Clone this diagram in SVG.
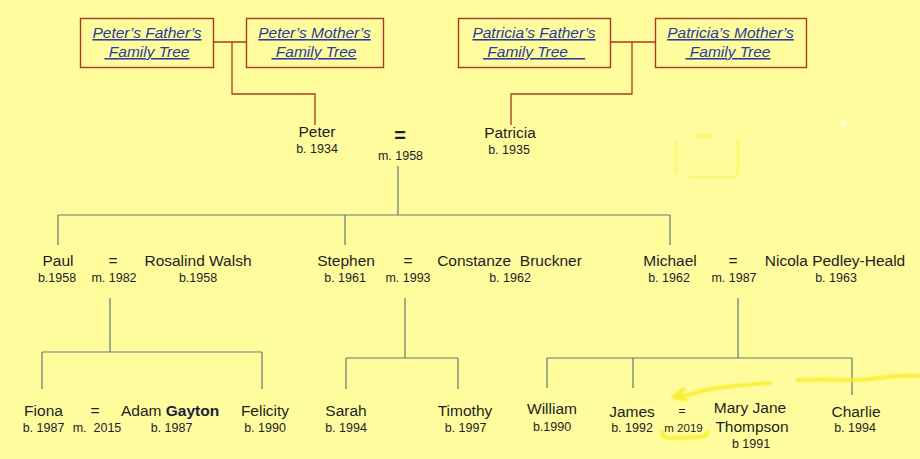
<svg xmlns="http://www.w3.org/2000/svg" width="920" height="459" viewBox="0 0 920 459">
<defs>
<style>
.bg{fill:#FFFC9E}
.box{fill:none;stroke:#A83A1E;stroke-width:1.4}
.red{fill:none;stroke:#A83A1E;stroke-width:1.3}
.gray{fill:none;stroke:#5F7A70;stroke-width:1.2}
.link{font-family:"Liberation Sans",Arial,sans-serif;font-size:15.5px;font-style:italic;fill:#2A3C9A;text-decoration:underline;text-anchor:middle}
.name{font-family:"Liberation Sans",Arial,sans-serif;font-size:15.5px;fill:#1E1E1E;text-anchor:middle}
.date{font-family:"Liberation Sans",Arial,sans-serif;font-size:12.5px;fill:#1E1E1E;text-anchor:middle}
.hl{fill:none;stroke:#F6EE2E;stroke-width:3.5;stroke-linecap:round;stroke-linejoin:round;filter:url(#blur)}
</style>
<filter id="blur" x="-20%" y="-50%" width="140%" height="200%"><feGaussianBlur stdDeviation="1"/></filter>
</defs>
<rect class="bg" x="0" y="0" width="920" height="459"/>

<g id="connectors">
<path class="red" d="M214,42H246M232,42V94H315V125"/>
<path class="red" d="M611,42H655M632,42V94H511V125"/>
<path class="gray" d="M398,166V215M58,215H670M58,215V245M345,215V245M670,215V245"/>
<path class="gray" d="M110,298V352M42,352H262M42,352V389M262,352V389"/>
<path class="gray" d="M405,298V358M346,358H458M346,358V389M458,358V389"/>
<path class="gray" d="M738,298V358M547,358H852M547,358V388M633,358V388M852,358V395"/>
</g>

<g id="peters-father">
<rect class="box" x="80.5" y="18.5" width="133" height="49"/>
<text class="link" x="147" y="38">Peter’s Father’s</text>
<text class="link" x="147" y="57">&#160;Family Tree</text>
</g>
<g id="peters-mother">
<rect class="box" x="246.5" y="18.5" width="137" height="49"/>
<text class="link" x="314.5" y="38">Peter’s Mother’s</text>
<text class="link" x="314" y="57">&#160;Family Tree</text>
</g>
<g id="patricias-father">
<rect class="box" x="458.5" y="18.5" width="152" height="49"/>
<text class="link" x="534" y="38">Patricia’s Father’s</text>
<text class="link" x="483" y="57" style="text-anchor:start">&#160;Family Tree&#160;&#160;&#160;&#160;</text>
</g>
<g id="patricias-mother">
<rect class="box" x="655.5" y="18.5" width="151" height="49"/>
<text class="link" x="730.5" y="38">Patricia’s Mother’s</text>
<text class="link" x="728" y="57">&#160;Family Tree</text>
</g>

<g id="peter">
<text class="name" x="317" y="137">Peter</text>
<text class="date" x="317" y="153">b. 1934</text>
</g>
<g id="marriage-peter-patricia">
<text class="name" x="400" y="142" style="font-weight:bold;font-size:20px">=</text>
<text class="date" x="400.5" y="160">m. 1958</text>
</g>
<g id="patricia">
<text class="name" x="510" y="138">Patricia</text>
<text class="date" x="509" y="154">b. 1935</text>
</g>

<g id="paul">
<text class="name" x="58" y="266">Paul</text>
<text class="date" x="57" y="282">b.1958</text>
</g>
<g id="marriage-paul">
<text class="name" x="113" y="266">=</text>
<text class="date" x="114" y="282">m. 1982</text>
</g>
<g id="rosalind">
<text class="name" x="198" y="266">Rosalind Walsh</text>
<text class="date" x="198" y="282">b.1958</text>
</g>

<g id="stephen">
<text class="name" x="346" y="266">Stephen</text>
<text class="date" x="345" y="282">b. 1961</text>
</g>
<g id="marriage-stephen">
<text class="name" x="408" y="266">=</text>
<text class="date" x="408" y="282">m. 1993</text>
</g>
<g id="constanze">
<text class="name" x="509.5" y="266" xml:space="preserve">Constanze  Bruckner</text>
<text class="date" x="510" y="282">b. 1962</text>
</g>

<g id="michael">
<text class="name" x="670" y="266">Michael</text>
<text class="date" x="669" y="282">b. 1962</text>
</g>
<g id="marriage-michael">
<text class="name" x="733" y="266">=</text>
<text class="date" x="734" y="282">m. 1987</text>
</g>
<g id="nicola">
<text class="name" x="835" y="266">Nicola Pedley-Heald</text>
<text class="date" x="836" y="282">b. 1963</text>
</g>

<g id="fiona">
<text class="name" x="43.5" y="416">Fiona</text>
<text class="date" x="43.5" y="432">b. 1987</text>
</g>
<g id="marriage-fiona">
<text class="name" x="95" y="416">=</text>
<text class="date" x="97" y="432" xml:space="preserve">m.  2015</text>
</g>
<g id="adam">
<text class="name" x="121" y="416" style="text-anchor:start">Adam <tspan style="font-weight:bold;fill:#1C1C3A">Gayton</tspan></text>
<text class="date" x="171.5" y="432">b. 1987</text>
</g>
<g id="felicity">
<text class="name" x="265" y="416">Felicity</text>
<text class="date" x="265" y="432">b. 1990</text>
</g>

<g id="sarah">
<text class="name" x="346" y="416">Sarah</text>
<text class="date" x="346" y="432">b. 1994</text>
</g>
<g id="timothy">
<text class="name" x="465" y="416">Timothy</text>
<text class="date" x="465.5" y="432">b. 1997</text>
</g>

<g id="william">
<text class="name" x="552" y="414">William</text>
<text class="date" x="552" y="431">b.1990</text>
</g>
<g id="james">
<text class="name" x="632" y="417">James</text>
<text class="date" x="632" y="432">b. 1992</text>
</g>
<g id="marriage-james">
<text class="name" x="682" y="415" style="font-size:12px">=</text>
<text class="date" x="683.5" y="432" style="font-size:11.5px">m 2019</text>
</g>
<g id="mary-jane">
<text class="name" x="750" y="413">Mary Jane</text>
<text class="name" x="752" y="432">Thompson</text>
<text class="date" x="751" y="448">b 1991</text>
</g>
<g id="charlie">
<text class="name" x="856" y="417">Charlie</text>
<text class="date" x="855" y="432">b. 1994</text>
</g>

<g id="highlights">
<path class="hl" d="M797,380C830,378 850,382 870,379C890,377 905,374 920,376"/>
<path class="hl" d="M770,383C740,385 715,387 695,393C688,396 680,396 673,397M673,397L684,389M673,397L686,400"/>
<path class="hl" d="M662,431C662,436 664,438 670,438L700,437C705,437 707,435 707,432"/>
<path class="hl" style="stroke-width:2;opacity:0.6" d="M676,142V173M695,136H712M738,140V174M690,177H735"/>
<circle cx="843" cy="123" r="2.5" fill="#FFFFF0" filter="url(#blur)"/>
</g>
</svg>
